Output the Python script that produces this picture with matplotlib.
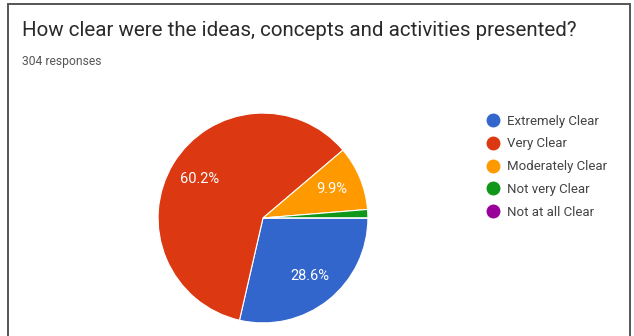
#!/usr/bin/env python3
"""Google-Forms style pie chart: clarity of ideas, concepts and activities."""
import matplotlib

matplotlib.use("Agg")
import matplotlib.pyplot as plt
from matplotlib.lines import Line2D
from matplotlib.patches import Rectangle

TITLE = "How clear were the ideas, concepts and activities presented?"
SUBTITLE = "304 responses"
CATEGORIES = ["Extremely Clear", "Very Clear", "Moderately Clear",
              "Not very Clear", "Not at all Clear"]
PERCENTS = [28.6, 60.2, 9.9, 1.3, 0.0]
COLORS = ["#3366CC", "#DC3912", "#FF9900", "#109618", "#990099"]

W, H = 634, 336
plt.rcParams["font.family"] = ["Roboto", "DejaVu Sans"]

fig = plt.figure(figsize=(W / 100, H / 100), dpi=100)
fig.patch.set_facecolor("white")

# card frame
fig.patches.append(Rectangle((8 / W, -0.05), 622 / W, (H - 4) / H + 0.05,
                             transform=fig.transFigure, fill=False,
                             edgecolor="#555555", linewidth=1.4))

fig.text(22 / W, 1 - 30 / H, TITLE, fontsize=14.8, color="#2a2a2a",
         va="center", ha="left")
fig.text(22 / W, 1 - 61 / H, SUBTITLE, fontsize=8.7, color="#555555",
         va="center", ha="left")

cx, cy, r = 263, 218, 107
ax = fig.add_axes([(cx - r) / W, (H - cy - r) / H, 2 * r / W, 2 * r / H])
ax.pie(PERCENTS, colors=COLORS, startangle=0, counterclock=False,
       radius=1.0, wedgeprops={"edgecolor": "white", "linewidth": 0.8},
       autopct=lambda p: f"{p:.1f}%" if p >= 5 else "", pctdistance=0.71,
       textprops={"color": "white", "fontsize": 10.5})
ax.set_xlim(-1.02, 1.02)
ax.set_ylim(-1.02, 1.02)
ax.set_aspect("equal")
ax.axis("off")

handles = [Line2D([], [], marker="o", linestyle="", markersize=9,
                  markerfacecolor=c, markeredgecolor=c) for c in COLORS]
fig.legend(handles, CATEGORIES, loc="upper left",
           bbox_to_anchor=(479 / W, 1 - 108 / H), frameon=False,
           fontsize=9.5, labelcolor="#444444", handletextpad=0.55,
           handlelength=1.1, labelspacing=0.74, borderpad=0)

fig.savefig("out.png", dpi=100)
